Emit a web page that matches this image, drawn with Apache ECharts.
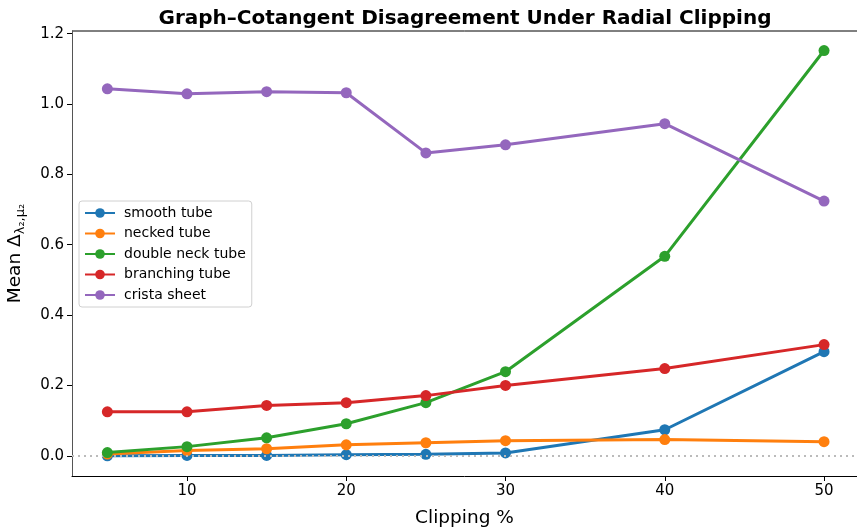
<!DOCTYPE html>
<html><head><meta charset="utf-8">
<script src="https://cdn.jsdelivr.net/npm/echarts@6/dist/echarts.min.js"></script>
<style>html,body{margin:0;padding:0;background:#fff}#c{width:857px;height:527px}</style>
</head><body><div id="c"></div>
<script>
const clipping = [5, 10, 15, 20, 25, 30, 40, 50];
const seriesNames = ["smooth tube", "necked tube", "double neck tube", "branching tube", "crista sheet"];
const smoothTube = [0.000, 0.001, 0.001, 0.003, 0.004, 0.008, 0.074, 0.296];
const neckedTube = [0.005, 0.015, 0.020, 0.031, 0.037, 0.043, 0.046, 0.040];
const doubleNeckTube = [0.009, 0.026, 0.051, 0.091, 0.151, 0.239, 0.567, 1.152];
const branchingTube = [0.125, 0.125, 0.143, 0.151, 0.171, 0.200, 0.248, 0.316];
const cristaSheet = [1.043, 1.029, 1.035, 1.032, 0.861, 0.884, 0.944, 0.724];
const xTicks = [10, 20, 30, 40, 50];
const yTicks = [0, 0.2, 0.4, 0.6, 0.8, 1.0, 1.2];

const colors = ["#1f77b4", "#ff7f0e", "#2ca02c", "#d62728", "#9467bd"];
const allData = [smoothTube, neckedTube, doubleNeckTube, branchingTube, cristaSheet];
const font = "DejaVu Sans";

const series = allData.map((vals, i) => ({
  name: seriesNames[i],
  type: "line",
  data: clipping.map((x, j) => [x, vals[j]]),
  symbol: "circle",
  symbolSize: 11,
  lineStyle: { width: 3, color: colors[i] },
  itemStyle: { color: colors[i] },
  z: 3 + i,
  animation: false
}));
series[0].markLine = {
  silent: true, symbol: "none", label: { show: false },
  lineStyle: { type: [2, 4], color: "#bbbbbb", width: 2 },
  data: [{ yAxis: 0 }], animation: false
};

const chart = echarts.init(document.getElementById("c"), null, { renderer: "canvas" });
chart.setOption({
  backgroundColor: "#fff",
  animation: false,
  color: colors,
  title: {
    text: "Graph\u2013Cotangent Disagreement Under Radial Clipping",
    left: 460, top: 4, textAlign: "center",
    textStyle: { fontFamily: font, fontWeight: "bold", fontSize: 20, color: "#000" }
  },
  grid: { left: 72, right: 0, top: 31, bottom: 51, outerBoundsMode: "none", containLabel: false, show: true, borderColor: "transparent" },
  legend: {
    orient: "vertical", left: 79, top: 201,
    data: seriesNames,
    itemWidth: 30, itemHeight: 12, itemGap: 6.5,
    padding: [5, 6, 5, 5],
    borderColor: "#d0d0d0", borderWidth: 1, borderRadius: 3,
    backgroundColor: "rgba(255,255,255,0.8)",
    textStyle: { fontFamily: font, fontSize: 14, color: "#000", padding: [0, 0, 0, 4] }
  },
  xAxis: {
    type: "value", min: 2.78, max: 52.07,
    name: "Clipping %", nameLocation: "middle", nameGap: 33,
    nameTextStyle: { fontFamily: font, fontSize: 18.5, color: "#000" },
    axisLine: { show: true, onZero: false, lineStyle: { color: "#000", width: 1 } },
    axisTick: { show: true, customValues: xTicks, length: 5, lineStyle: { color: "#000" } },
    axisLabel: { customValues: xTicks, fontFamily: font, fontSize: 15, color: "#000", margin: 8 },
    splitLine: { show: false }
  },
  yAxis: [{
    type: "value", min: -0.0575, max: 1.2075,
    name: "Mean \u0394{sub|\u03bb\u2082,\u03bc\u2082}", nameLocation: "middle", nameGap: 45, nameRotate: 90,
    nameTextStyle: { fontFamily: font, fontSize: 18.5, color: "#000",
      rich: { sub: { fontFamily: font, fontSize: 13, color: "#000", padding: [10, 0, 0, 0] } } },
    axisLine: { show: true, lineStyle: { color: "#555", width: 1 } },
    axisTick: { show: true, customValues: yTicks, length: 5, lineStyle: { color: "#000" } },
    axisLabel: { customValues: yTicks, fontFamily: font, fontSize: 15, color: "#000", margin: 8,
      formatter: v => v.toFixed(1) },
    splitLine: { show: false }
  }],
  graphic: [{
    type: "line", shape: { x1: 72, y1: 31, x2: 857, y2: 31 },
    style: { stroke: "#000", lineWidth: 1 }, silent: true
  }],
  series: series
});
</script></body></html>
